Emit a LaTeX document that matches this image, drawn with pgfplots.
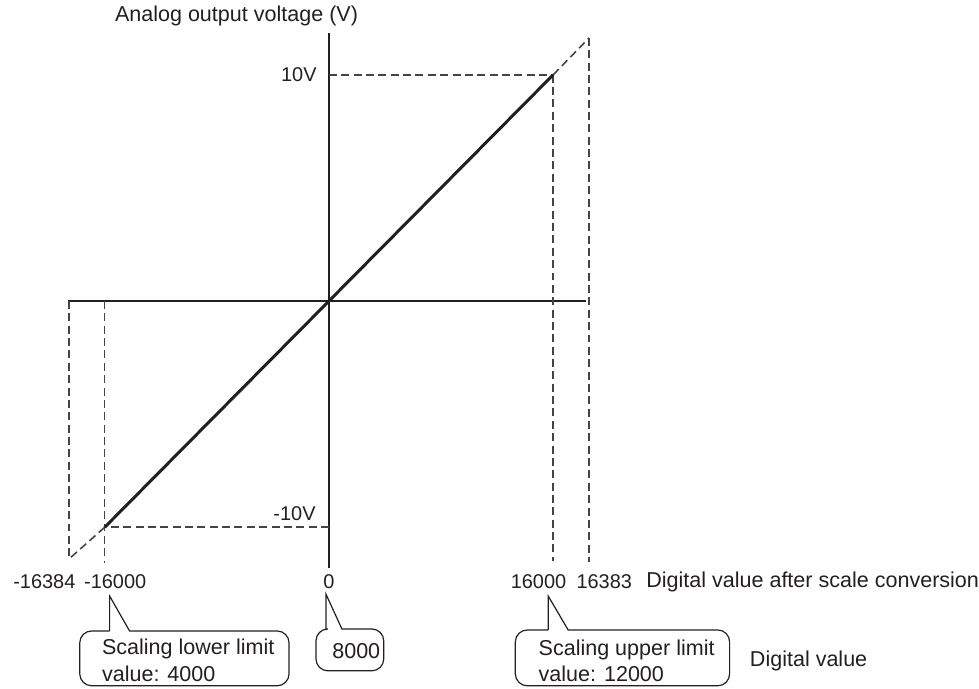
\documentclass[border=0pt]{standalone}
\usepackage{pgfplots}
\pgfplotsset{compat=1.18}
\usepackage{fontspec}
\setmainfont{Liberation Sans}
\definecolor{ink}{HTML}{231F20}
\definecolor{guidegray}{HTML}{444444}

\begin{document}
\begin{tikzpicture}[font=\fontsize{10.8}{12.8}\selectfont, text=ink,
  num/.style={font=\fontsize{10}{12}\selectfont}]
\begin{axis}[
  scale only axis,
  width=489.5pt, height=345.5pt,
  xmin=-23467, xmax=46151,
  ymin=-17.137, ymax=13.304,
  hide axis, clip=false,
  guideline/.style={guidegray, line width=0.8pt, dash pattern=on 4pt off 2.2pt},
]
\path (rel axis cs:0,0) rectangle (rel axis cs:1,1);
\coordinate (tl) at (rel axis cs:0,1);
% axes
\addplot[ink, line width=0.75pt] coordinates {(-18631,0) (18347,0)};
\addplot[ink, line width=0.75pt] coordinates {(0,11.85) (0,-11.81)};
% guide lines
\addplot[guideline] coordinates {(0,10) (16000,10)};
\addplot[guideline] coordinates {(16000,10) (16000,-11.5)};
\addplot[guideline] coordinates {(18560,11.63) (18560,-11.54)};
\addplot[guideline] coordinates {(16000,10) (18560,11.63)};
\addplot[guideline] coordinates {(0,-10) (-16000,-10)};
\addplot[guideline] coordinates {(-16000,0) (-16000,-11.6)};
\addplot[guideline] coordinates {(-18560,0) (-18560,-11.41)};
\addplot[guideline] coordinates {(-16000,-10) (-18560,-11.41)};
% conversion characteristic
\addplot[ink, line width=1.5pt] coordinates {(-16000,-10) (16000,10)};
\end{axis}

\begin{scope}[shift={(tl)}, x=0.5pt, y=-0.5pt, every node/.append style={inner sep=0pt}]
\node[anchor=west] at (115,16) {Analog output voltage (V)};
\node[num, anchor=east] at (318,75) {10V};
\node[num, anchor=east] at (317,515) {-10V};
\node[num, anchor=east] at (76,584) {-16384};
\node[num, anchor=west] at (84,584) {-16000};
\node[num] at (330,584) {0};
\node[num, anchor=west] at (512,584) {16000};
\node[num, anchor=west] at (578,584) {16383};
\node[anchor=west] at (648,584) {Digital value after scale conversion};
% callouts
\draw[ink, line width=0.6pt] (110,633) [sharp corners] -- (110,598) -- (130,633)
  [rounded corners=6pt] -- (290,633) -- (290,688) -- (80,688) -- (80,633) -- (110,633);
\node[anchor=west] at (102,651) {Scaling lower limit};
\node[anchor=west] at (102,676) {value: 4000};
\draw[ink, line width=0.6pt] (327,631) [sharp corners] -- (327,596) -- (343,631)
  [rounded corners=6pt] -- (385,631) -- (385,673) -- (317,673) -- (317,631) -- (327,631);
\node[anchor=west] at (333,653) {8000};
\draw[ink, line width=0.6pt] (550,632) [sharp corners] -- (550,598) -- (570,632)
  [rounded corners=6pt] -- (732,632) -- (732,688) -- (517,688) -- (517,632) -- (550,632);
\node[anchor=west] at (540,652) {Scaling upper limit};
\node[anchor=west] at (540,676) {value: 12000};
\node[anchor=west] at (752,663) {Digital value};
\end{scope}
\end{tikzpicture}
\end{document}
